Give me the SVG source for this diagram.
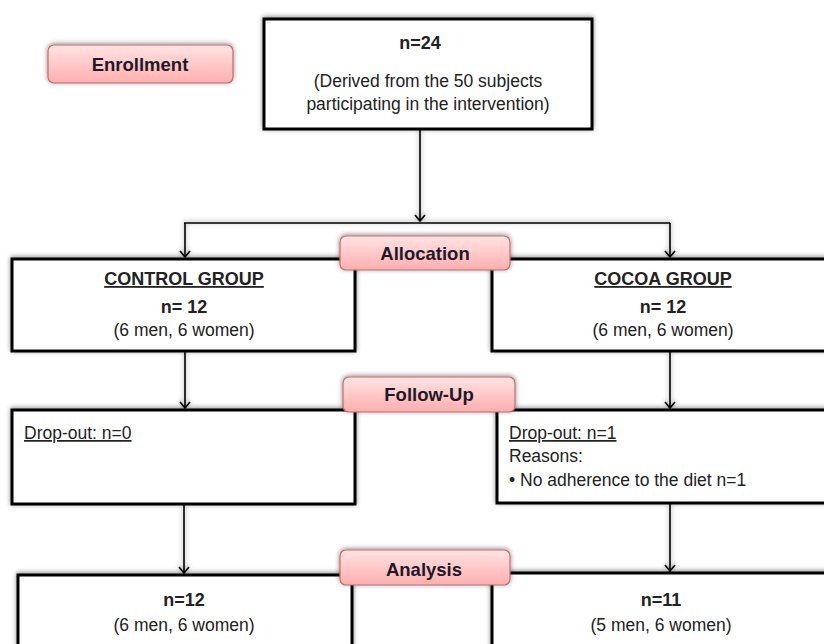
<svg xmlns="http://www.w3.org/2000/svg" width="824" height="644" viewBox="0 0 824 644">
<defs>
<linearGradient id="pink" x1="0" y1="0" x2="0" y2="1">
<stop offset="0" stop-color="#ffe4e4"/>
<stop offset="1" stop-color="#ffaeae"/>
</linearGradient>
<filter id="sh" x="-10%" y="-20%" width="120%" height="150%">
<feGaussianBlur in="SourceAlpha" stdDeviation="2.5"/>
<feOffset dx="0" dy="-1" result="b"/>
<feComponentTransfer><feFuncA type="linear" slope="0.45"/></feComponentTransfer>
<feMerge><feMergeNode/><feMergeNode in="SourceGraphic"/></feMerge>
</filter>
<marker id="arr" viewBox="0 0 12 12" refX="11" refY="6" markerWidth="12" markerHeight="12" markerUnits="userSpaceOnUse" orient="auto">
<path d="M5,1 L11,6 L5,11" fill="none" stroke="#000" stroke-width="1.6"/>
</marker>
</defs>
<style>
text{font-family:"Liberation Sans",Arial,sans-serif;fill:#222;}
.box{fill:#fff;stroke:#000;stroke-width:3;}
.lbl{fill:url(#pink);stroke:#c86868;stroke-width:1.2;}
.lt{font-size:18.5px;font-weight:bold;fill:#1a1a2a;text-anchor:middle;}
.c{text-anchor:middle;font-size:17.5px;}
.b{font-weight:bold;font-size:18px;}
.u{text-decoration:underline;}
.l{font-size:17.5px;}
.con{fill:none;stroke:#000;stroke-width:1.6;}
</style>
<rect width="824" height="644" fill="#fff"/>

<g id="connectors" filter="url(#sh)">
<line class="con" x1="420" y1="130" x2="420" y2="221" marker-end="url(#arr)"/>
<line class="con" x1="184" y1="223" x2="670" y2="223"/>
<line class="con" x1="185" y1="223" x2="185" y2="257" marker-end="url(#arr)"/>
<line class="con" x1="670" y1="223" x2="670" y2="257" marker-end="url(#arr)"/>
<line class="con" x1="185" y1="352" x2="185" y2="408" marker-end="url(#arr)"/>
<line class="con" x1="670" y1="352" x2="670" y2="408" marker-end="url(#arr)"/>
<line class="con" x1="184" y1="505" x2="184" y2="573" marker-end="url(#arr)"/>
<line class="con" x1="670" y1="504" x2="670" y2="571" marker-end="url(#arr)"/>
</g>

<g id="enrollment-box">
<rect class="box" x="264" y="19" width="328" height="110" filter="url(#sh)"/>
<text class="c b" x="420" y="49">n=24</text>
<text class="c" x="428" y="87">(Derived from the 50 subjects</text>
<text class="c" x="428" y="110">participating in the intervention)</text>
</g>

<g id="control-group">
<rect class="box" x="12" y="259" width="343" height="92" filter="url(#sh)"/>
<text class="c b u" x="184" y="285">CONTROL GROUP</text>
<text class="c b" x="184" y="313">n= 12</text>
<text class="c" x="184" y="336">(6 men, 6 women)</text>
</g>

<g id="cocoa-group">
<rect class="box" x="492" y="259" width="340" height="92" filter="url(#sh)"/>
<text class="c b u" x="663" y="285">COCOA GROUP</text>
<text class="c b" x="663" y="313">n= 12</text>
<text class="c" x="663" y="336">(6 men, 6 women)</text>
</g>

<g id="control-followup">
<rect class="box" x="12" y="410" width="343" height="94" filter="url(#sh)"/>
<text class="l u" x="24" y="439">Drop-out: n=0</text>
</g>

<g id="cocoa-followup">
<rect class="box" x="497" y="410" width="335" height="93" filter="url(#sh)"/>
<text class="l u" x="509" y="439">Drop-out: n=1</text>
<text class="l" x="509" y="462">Reasons:</text>
<text class="l" x="509" y="486">• No adherence  to the diet n=1</text>
</g>

<g id="control-analysis">
<rect class="box" x="18" y="575" width="334" height="80" filter="url(#sh)"/>
<text class="c b" x="184" y="606">n=12</text>
<text class="c" x="184" y="631">(6 men, 6 women)</text>
</g>

<g id="cocoa-analysis">
<rect class="box" x="492" y="573" width="340" height="82" filter="url(#sh)"/>
<text class="c b" x="661" y="606">n=11</text>
<text class="c" x="661" y="631">(5 men, 6 women)</text>
</g>

<g id="label-enrollment">
<rect class="lbl" x="48" y="45" width="185" height="38" rx="6" filter="url(#sh)"/>
<text class="lt" x="140" y="71">Enrollment</text>
</g>

<g id="label-allocation">
<rect class="lbl" x="340" y="236" width="170" height="34" rx="6" filter="url(#sh)"/>
<text class="lt" x="425" y="260">Allocation</text>
</g>

<g id="label-followup">
<rect class="lbl" x="343" y="377" width="172" height="35" rx="6" filter="url(#sh)"/>
<text class="lt" x="429" y="401">Follow-Up</text>
</g>

<g id="label-analysis">
<rect class="lbl" x="340" y="550" width="170" height="35" rx="6" filter="url(#sh)"/>
<text class="lt" x="424" y="576">Analysis</text>
</g>
</svg>
